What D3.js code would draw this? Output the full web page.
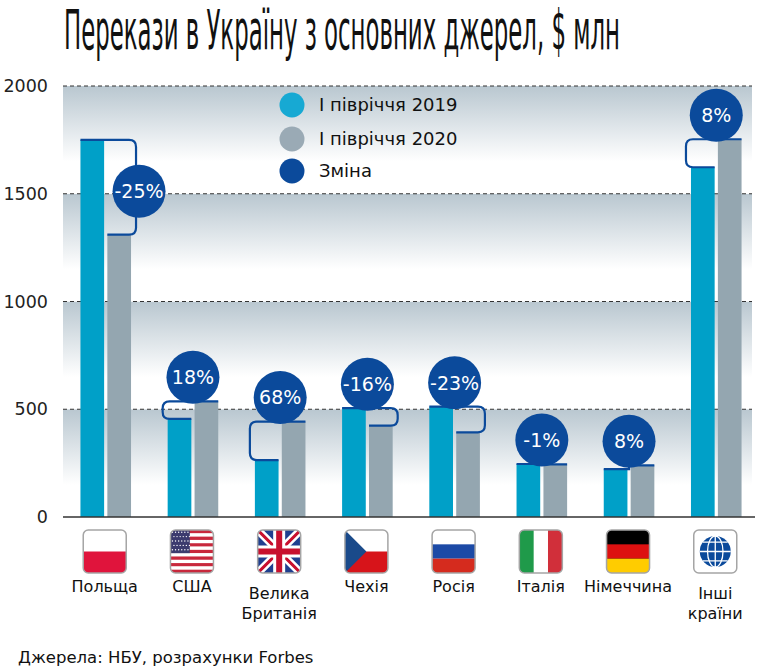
<!DOCTYPE html>
<html lang="uk">
<head>
<meta charset="UTF-8">
<title>Перекази в Україну з основних джерел</title>
<script src="https://d3js.org/d3.v7.min.js"></script>
<style>
  body { margin: 0; background: #fff; }
  svg { display: block; font-family: "DejaVu Sans", sans-serif; }
</style>
</head>
<body>
<svg id="chart" width="764" height="670"></svg>
<script>
// data ($ млн)
const categories = ['Польща', 'США', 'Велика Британія', 'Чехія', 'Росія', 'Італія', 'Німеччина', 'Інші країни'];
const labelLines = [['Польща'], ['США'], ['Велика', 'Британія'], ['Чехія'], ['Росія'], ['Італія'], ['Німеччина'], ['Інші', 'країни']];
const flags = ['pl', 'us', 'gb', 'cz', 'ru', 'it', 'de', 'world'];
const h2019 = [1750, 455, 264, 505, 512, 246, 222, 1623];
const h2020 = [1310, 537, 443, 424, 393, 244, 240, 1753];
const changes = ['-25%', '18%', '68%', '-16%', '-23%', '-1%', '8%', '8%'];
const yTicks = [0, 500, 1000, 1500, 2000];
const seriesNames = ['І півріччя 2019', 'І півріччя 2020', 'Зміна'];

const C19 = '#00a0c8', C20 = '#94a6b0', CDARK = '#0b4a9b';

const svg = d3.select('#chart');
const plotL = 63, plotR = 759, plotT = 86, plotB = 517;

const y = d3.scaleLinear().domain([0, 2000]).range([plotB, plotT]);
const x0 = d3.scaleBand().domain(categories).range([plotL, plotR]).paddingInner(0.42).paddingOuter(0.2);
const x1 = d3.scaleBand().domain(['2019', '2020']).range([0, x0.bandwidth()]).paddingInner(0.12);

// title: small condensed face stretched tall and squeezed to the reference width
const title = svg.append('text')
  .attr('x', 0).attr('y', 0)
  .style('font-family', '"DejaVu Sans Condensed", "Liberation Sans Narrow", sans-serif')
  .style('font-size', '40px').attr('fill', '#111')
  .text('Перекази в Україну з основних джерел, $ млн');
const tw = title.node().getComputedTextLength();
title.attr('transform', `translate(64,49) scale(${556 / tw},1.4)`);

// background bands
const defs = svg.append('defs');
const grad = defs.append('linearGradient').attr('id', 'band').attr('x1', 0).attr('y1', 0).attr('x2', 0).attr('y2', 1);
grad.append('stop').attr('offset', 0).attr('stop-color', '#b9c7d0');
grad.append('stop').attr('offset', 0.7).attr('stop-color', '#ffffff');

svg.append('g').selectAll('rect')
  .data(yTicks.slice(1))
  .join('rect')
  .attr('x', plotL).attr('width', 752 - plotL)
  .attr('y', d => y(d)).attr('height', d => y(d - 500) - y(d))
  .attr('fill', 'url(#band)');

// grid
svg.append('g').selectAll('line')
  .data(yTicks.slice(1))
  .join('line')
  .attr('x1', plotL).attr('x2', 752)
  .attr('y1', d => y(d)).attr('y2', d => y(d))
  .attr('stroke', '#333').attr('stroke-width', 1.2).attr('stroke-dasharray', '4,3');

// y axis labels
const yAxis = svg.append('g').attr('transform', `translate(${plotL - 15},0)`)
  .call(d3.axisLeft(y).tickValues(yTicks).tickFormat(d3.format('d')).tickSize(0).tickPadding(0));
yAxis.select('.domain').remove();
yAxis.selectAll('text').style('font-size', '17.5px').style('font-family', '"DejaVu Sans", sans-serif').attr('fill', '#222');

// bars
const rows = categories.map((c, i) => ({ c, i, v19: h2019[i], v20: h2020[i], ch: changes[i] }));
const groups = svg.append('g').selectAll('g').data(rows).join('g')
  .attr('transform', d => `translate(${x0(d.c)},0)`);

groups.append('rect')
  .attr('x', x1('2019')).attr('width', x1.bandwidth())
  .attr('y', d => y(d.v19)).attr('height', d => y(0) - y(d.v19))
  .attr('fill', C19);
groups.append('rect')
  .attr('x', x1('2020')).attr('width', x1.bandwidth())
  .attr('y', d => y(d.v20)).attr('height', d => y(0) - y(d.v20))
  .attr('fill', C20);

// baseline
svg.append('line').attr('x1', plotL).attr('x2', 755).attr('y1', y(0)).attr('y2', y(0))
  .attr('stroke', '#333').attr('stroke-width', 1.5);

// change brackets + bubbles
const bw = x1.bandwidth(), gw = x0.bandwidth();
const R = 26.5;
rows.forEach(d => {
  const g0 = x0(d.c);
  const aL = g0 + x1('2019'), aR = aL + bw;
  const bL = g0 + x1('2020'), bR = bL + bw;
  const ya = y(d.v19), yb = y(d.v20);
  const span = Math.abs(ya - yb);
  let path, bx;
  if (span < 6) {
    const mid = (aR + bL) / 2;
    path = `M${aL},${ya}H${mid}V${yb}H${bR}`;
    bx = g0 + gw / 2;
  } else if (d.v20 < d.v19) {
    bx = g0 + gw + 5;
    const r = Math.min(7, span / 2);
    path = `M${aL},${ya}H${bx - r}Q${bx},${ya} ${bx},${ya + r}V${yb - r}Q${bx},${yb} ${bx - r},${yb}H${bL}`;
  } else {
    bx = g0 - 5;
    const r = Math.min(7, span / 2);
    path = `M${bR},${yb}H${bx + r}Q${bx},${yb} ${bx},${yb + r}V${ya - r}Q${bx},${ya} ${bx + r},${ya}H${aR}`;
  }
  svg.append('path').attr('d', path).attr('fill', 'none')
    .attr('stroke', CDARK).attr('stroke-width', 2.2);

  let cx, cy;
  if (span > 60) { cx = bx + 3; cy = (ya + yb) / 2 + 4; }
  else { cx = g0 + gw / 2; cy = Math.min(ya, yb) - 24; }
  svg.append('circle').attr('cx', cx).attr('cy', cy).attr('r', R).attr('fill', CDARK);
  svg.append('text').attr('x', cx).attr('y', cy).attr('dy', '0.36em')
    .attr('text-anchor', 'middle').attr('fill', '#fff').style('font-size', '19px')
    .text(d.ch);
});

// legend
const legendColors = ['#17a9d3', '#9aaab5', CDARK];
const lg = svg.append('g').selectAll('g').data(seriesNames).join('g')
  .attr('transform', (d, i) => `translate(292,${[105, 139, 171][i]})`);
lg.append('circle').attr('r', 12.5).attr('fill', (d, i) => legendColors[i]);
lg.append('text').attr('x', 27).attr('dy', '0.36em').style('font-size', '18px').attr('fill', '#111').text(d => d);

// flags
function drawFlag(g, kind, s) {
  const id = 'clip-' + kind;
  defs.append('clipPath').attr('id', id).append('rect')
    .attr('x', -s / 2).attr('y', 0).attr('width', s).attr('height', s).attr('rx', 5);
  const f = g.append('g').attr('clip-path', `url(#${id})`);
  const X = -s / 2;
  const bg = (c) => f.append('rect').attr('x', X).attr('y', 0).attr('width', s).attr('height', s).attr('fill', c);
  if (kind === 'pl') {
    bg('#fff');
    f.append('rect').attr('x', X).attr('y', s / 2).attr('width', s).attr('height', s / 2).attr('fill', '#e0143c');
  } else if (kind === 'us') {
    for (let k = 0; k < 13; k++) {
      f.append('rect').attr('x', X).attr('y', k * s / 13).attr('width', s).attr('height', s / 13 + 0.2)
        .attr('fill', k % 2 ? '#fff' : '#c8283c');
    }
    f.append('rect').attr('x', X).attr('y', 0).attr('width', s * 0.45).attr('height', s * 7 / 13).attr('fill', '#3c3b6e');
    for (let r = 0; r < 5; r++) for (let c = 0; c < 6; c++) {
      f.append('circle').attr('cx', X + 2 + c * 3.1 + (r % 2) * 1.5).attr('cy', 2.2 + r * 4.4).attr('r', 0.7).attr('fill', '#fff');
    }
  } else if (kind === 'gb') {
    bg('#1f3f8f');
    f.append('path').attr('d', `M${X},0L${-X},${s}M${-X},0L${X},${s}`).attr('stroke', '#fff').attr('stroke-width', 8);
    f.append('path').attr('d', `M${X},0L${-X},${s}M${-X},0L${X},${s}`).attr('stroke', '#c8102e').attr('stroke-width', 3);
    f.append('path').attr('d', `M0,0V${s}M${X},${s / 2}H${-X}`).attr('stroke', '#fff').attr('stroke-width', 12);
    f.append('path').attr('d', `M0,0V${s}M${X},${s / 2}H${-X}`).attr('stroke', '#c8102e').attr('stroke-width', 6);
  } else if (kind === 'cz') {
    bg('#fff');
    f.append('rect').attr('x', X).attr('y', s / 2).attr('width', s).attr('height', s / 2).attr('fill', '#d7141a');
    f.append('path').attr('d', `M${X},0L0,${s / 2}L${X},${s}Z`).attr('fill', '#1a4a8a');
  } else if (kind === 'ru') {
    bg('#fff');
    f.append('rect').attr('x', X).attr('y', s / 3).attr('width', s).attr('height', s / 3).attr('fill', '#1c4aa6');
    f.append('rect').attr('x', X).attr('y', 2 * s / 3).attr('width', s).attr('height', s / 3).attr('fill', '#d52b1e');
  } else if (kind === 'it') {
    bg('#fff');
    f.append('rect').attr('x', X).attr('y', 0).attr('width', s / 3).attr('height', s).attr('fill', '#1f9a4a');
    f.append('rect').attr('x', X + 2 * s / 3).attr('y', 0).attr('width', s / 3).attr('height', s).attr('fill', '#d12f3a');
  } else if (kind === 'de') {
    bg('#000');
    f.append('rect').attr('x', X).attr('y', s / 3).attr('width', s).attr('height', s / 3).attr('fill', '#dd1010');
    f.append('rect').attr('x', X).attr('y', 2 * s / 3).attr('width', s).attr('height', s / 3).attr('fill', '#ffcc00');
  } else {
    bg('#fff');
    const gr = s * 0.36, cyc = s / 2;
    f.append('circle').attr('cx', 0).attr('cy', cyc).attr('r', gr).attr('fill', CDARK);
    const st = { stroke: '#fff', 'stroke-width': 1.3, fill: 'none' };
    const add = (sel) => { Object.entries(st).forEach(([k, v]) => sel.attr(k, v)); return sel; };
    add(f.append('line').attr('x1', 0).attr('x2', 0).attr('y1', cyc - gr).attr('y2', cyc + gr));
    add(f.append('ellipse').attr('cx', 0).attr('cy', cyc).attr('rx', gr * 0.5).attr('ry', gr));
    [-0.6, 0, 0.6].forEach(t => {
      const yy = cyc + t * gr, hw = Math.sqrt(1 - t * t) * gr;
      add(f.append('line').attr('x1', -hw).attr('x2', hw).attr('y1', yy).attr('y2', yy));
    });
  }
  g.append('rect').attr('x', -s / 2).attr('y', 0).attr('width', s).attr('height', s).attr('rx', 5)
    .attr('fill', 'none').attr('stroke', '#a5a5a5').attr('stroke-width', 1.5);
}

const lab = svg.append('g').selectAll('g').data(rows).join('g')
  .attr('transform', d => `translate(${x0(d.c) + x0.bandwidth() / 2 - 1},0)`);
lab.each(function(d) {
  const g = d3.select(this);
  drawFlag(g.append('g').attr('transform', 'translate(0,530)'), flags[d.i], 43);
  const lines = labelLines[d.i];
  const t = g.append('text').attr('text-anchor', 'middle').style('font-size', '16px').attr('fill', '#111');
  lines.forEach((ln, k) => {
    t.append('tspan').attr('x', 0).attr('y', (lines.length > 1 ? 599 : 592) + k * 20).text(ln);
  });
});

// source
svg.append('text').attr('x', 18).attr('y', 663).style('font-size', '16.5px').attr('fill', '#111')
  .text('Джерела: НБУ, розрахунки Forbes');
</script>
</body>
</html>
